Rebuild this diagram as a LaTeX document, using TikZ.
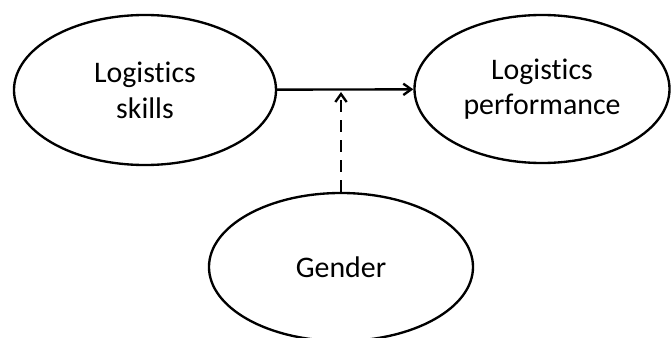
\documentclass[tikz,border=0pt]{standalone}
\usepackage{fontspec}
\setmainfont{Carlito}[Ligatures=NoCommon]
\usetikzlibrary{shapes.geometric,arrows.meta}
\tikzset{
  construct/.style={draw,ellipse,line width=2pt,align=center,inner sep=0pt,
    font=\fontsize{25.5}{30.5}\selectfont},
  link/.style={line width=2pt,-{Straight Barb[length=2.4mm,width=3.4mm,line width=2pt]}},
  modlink/.style={link,dash pattern=on 3.6mm off 2.4mm}
}
\begin{document}
\begin{tikzpicture}[x=0.03cm,y=-0.03cm]
\useasboundingbox (0,0) rectangle (671,338);
\node[construct,minimum width=7.86cm,minimum height=4.5cm] (skills) at (145,90) {Logistics\\skills};
\node[construct,minimum width=7.65cm,minimum height=4.44cm] (perf) at (542,89) {Logistics\\performance};
\node[construct,minimum width=7.92cm,minimum height=4.44cm] (gender) at (341,267) {Gender};

\coordinate (mod) at (341,92);
\draw[link] (skills) -- (perf);
\draw[modlink] (gender.north) -- (mod);
\end{tikzpicture}
\end{document}
